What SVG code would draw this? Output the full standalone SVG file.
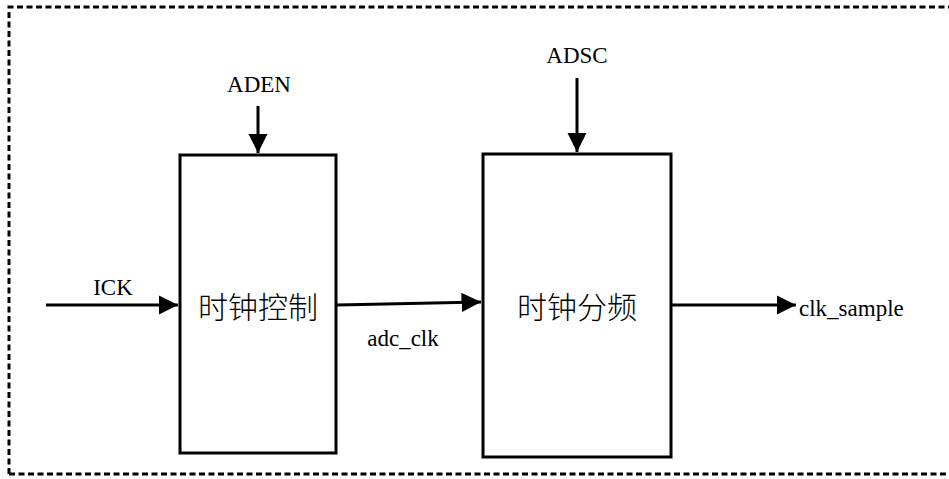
<svg xmlns="http://www.w3.org/2000/svg" width="949" height="479" viewBox="0 0 949 479">
<style>
.box{fill:#fff;stroke:#000;stroke-width:3}
.ln{stroke:#000;stroke-width:3;fill:none}
.t{font-family:"Liberation Serif","Times New Roman",serif;font-size:23px;fill:#000}
.c{font-family:"Liberation Serif","Noto Sans CJK SC",sans-serif;font-size:30px;font-weight:300;fill:#000}
</style>
<defs>
<marker id="ah" viewBox="0 0 10 10" refX="10" refY="5" markerWidth="6.5" markerHeight="6.5" markerUnits="strokeWidth" orient="auto"><path d="M0,0L10,5L0,10Z" fill="#000"/></marker>
</defs>
<rect x="0" y="0" width="949" height="479" fill="#fff"/>
<path d="M9,474V7H949M9,474H949" fill="none" stroke="#000" stroke-width="3" stroke-dasharray="6,3.5"/>
<g id="n1"><rect class="box" x="180" y="155" width="156" height="298"/><text class="c" x="258" y="318" text-anchor="middle">时钟控制</text></g>
<g id="n2"><rect class="box" x="483" y="154" width="188" height="303"/><text class="c" x="577" y="318" text-anchor="middle">时钟分频</text></g>
<g id="connectors">
<line class="ln" x1="258" y1="106" x2="258" y2="153" marker-end="url(#ah)"/>
<line class="ln" x1="577" y1="78" x2="577" y2="152" marker-end="url(#ah)"/>
<line class="ln" x1="46" y1="305" x2="178" y2="305" marker-end="url(#ah)"/>
<line class="ln" x1="337" y1="305" x2="481" y2="302" marker-end="url(#ah)"/>
<line class="ln" x1="672" y1="305" x2="796" y2="305" marker-end="url(#ah)"/>
</g>
<text class="t" x="259" y="92" text-anchor="middle">ADEN</text>
<text class="t" x="577" y="63" text-anchor="middle">ADSC</text>
<text class="t" x="113" y="295" text-anchor="middle">ICK</text>
<text class="t" x="403" y="346" text-anchor="middle">adc_clk</text>
<text class="t" x="799" y="316">clk_sample</text>
</svg>
